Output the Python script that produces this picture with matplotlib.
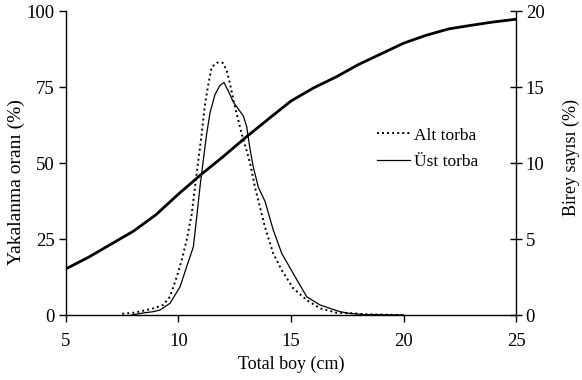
import matplotlib
matplotlib.use("Agg")
import matplotlib.pyplot as plt

# Selectivity curve (left axis, %)
sel_x = [5, 6, 7, 8, 9, 10, 11, 12, 13, 14, 15, 16, 17, 18, 19, 20, 21, 22, 23, 24, 25]
sel_y = [15.2, 19.0, 23.3, 27.6, 33.0, 39.8, 46.2, 52.2, 58.5, 64.5, 70.4, 74.7, 78.3, 82.4, 85.9, 89.4, 92.0, 94.1, 95.3, 96.4, 97.3]

# Alt torba (right axis, %)
alt_x = [7.5, 8.0, 8.5, 8.88, 9.32, 9.62, 9.92, 10.14, 10.36, 10.59, 10.73, 10.88, 11.03, 11.18,
         11.33, 11.47, 11.7, 11.96, 12.14, 12.29, 12.51, 12.66, 12.81, 13.03, 13.18, 13.4, 13.62,
         13.84, 14.21, 14.59, 15.1, 15.7, 16.29, 17.03, 17.77, 18.3, 20.0]
alt_y = [0.08, 0.15, 0.3, 0.44, 0.66, 1.2, 2.5, 3.6, 4.9, 6.67, 8.4, 10.16, 11.9, 13.9,
         15.2, 16.3, 16.6, 16.6, 16.1, 15.2, 13.7, 12.8, 11.9, 10.8, 10.0, 8.4, 7.1,
         5.8, 4.05, 2.95, 1.75, 0.98, 0.44, 0.15, 0.11, 0.05, 0.0]

# Üst torba (right axis, %)
ust_x = [7.9, 8.5, 8.88, 9.18, 9.62, 10.07, 10.36, 10.66, 10.81, 10.96, 11.1, 11.25, 11.4,
         11.62, 11.84, 12.02, 12.21, 12.44, 12.66, 12.88, 13.03, 13.18, 13.33, 13.55, 13.84,
         14.21, 14.59, 15.1, 15.7, 16.29, 16.73, 17.18, 17.6, 18.2, 20.0]
ust_y = [0.0, 0.15, 0.22, 0.33, 0.77, 1.86, 3.17, 4.48, 6.45, 8.5, 10.16, 11.9, 13.3,
         14.5, 15.1, 15.3, 14.75, 14.0, 13.55, 13.1, 12.4, 10.9, 9.7, 8.4, 7.5,
         5.6, 4.05, 2.73, 1.2, 0.66, 0.44, 0.22, 0.11, 0.03, 0.0]

plt.rcParams['font.family'] = ['Liberation Serif', 'DejaVu Serif']

fig = plt.figure(figsize=(5.82, 3.80), dpi=100)
ax = fig.add_axes([0.1134, 0.171, 0.7732, 0.800])
ax2 = ax.twinx()

ax.plot(sel_x, sel_y, color='black', lw=2.0, zorder=3)
ax2.plot(alt_x, alt_y, color='black', lw=1.4, linestyle=(0, (1, 1.6)), label='Alt torba')
ax2.plot(ust_x, ust_y, color='black', lw=0.9, label='Üst torba')

ax.set_xlim(5, 25)
ax.set_ylim(0, 100)
ax2.set_ylim(0, 20)
ax.set_xticks([5, 10, 15, 20, 25])
ax.set_yticks([0, 25, 50, 75, 100])
ax2.set_yticks([0, 5, 10, 15, 20])

for a in (ax, ax2):
    a.spines['top'].set_visible(False)
    for s in a.spines.values():
        s.set_linewidth(1.0)
ax.spines['right'].set_visible(False)
ax2.spines['left'].set_visible(False)
ax2.spines['bottom'].set_visible(False)

ax.tick_params(axis='both', direction='out', length=5, width=1, labelsize=13.5, pad=3)
ax.tick_params(axis='x', pad=8)
ax2.tick_params(axis='y', direction='inout', length=8, width=1, labelsize=13.5, pad=3)

ax.set_xlabel('Total boy (cm)', fontsize=13, labelpad=4)
ax.set_ylabel('Yakalanma oranı (%)', fontsize=14)
ax.yaxis.set_label_coords(-0.091, 0.4375)
ax2.set_ylabel('Birey sayısı (%)', fontsize=13)
ax2.yaxis.set_label_coords(1.1045, 0.518)

leg = ax2.legend(loc='upper left', bbox_to_anchor=(0.675, 0.64), frameon=False,
                 fontsize=12.5, handlelength=1.9, handletextpad=0.25, labelspacing=0.6,
                 borderaxespad=0)

fig.savefig('out.png', dpi=100)
